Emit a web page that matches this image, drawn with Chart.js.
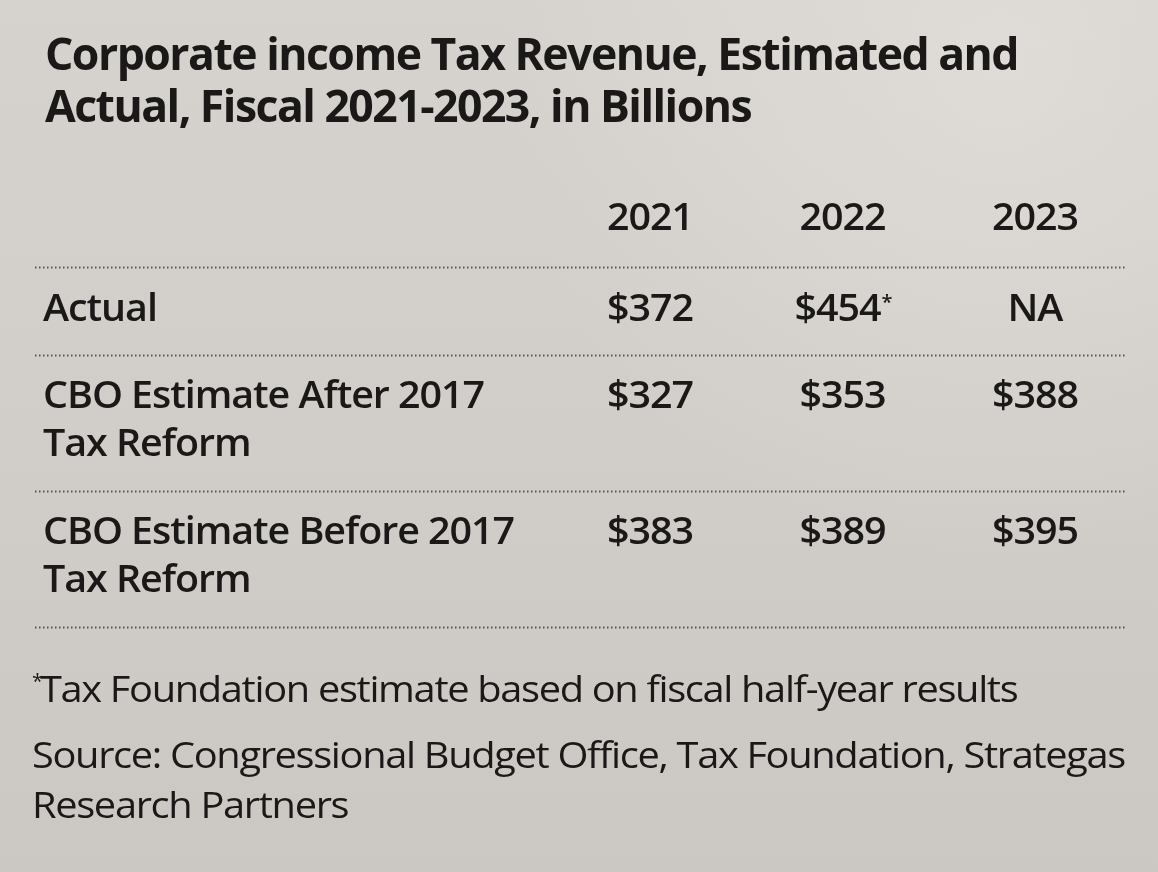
<!DOCTYPE html>
<html>
<head>
<meta charset="utf-8">
<script src="https://cdn.jsdelivr.net/npm/chart.js@4/dist/chart.umd.min.js"></script>
<style>
html, body { margin: 0; padding: 0; background: #d3d0cb; }
#wrap { width: 1158px; height: 872px; }
</style>
</head>
<body>
<div id="wrap"><canvas id="chart1" width="1158" height="872"></canvas></div>
<script>
// table content
var title = ['Corporate income Tax Revenue, Estimated and', 'Actual, Fiscal 2021-2023, in Billions'];
var years = ['2021', '2022', '2023'];
var rowNames = [['Actual'], ['CBO Estimate After 2017', 'Tax Reform'], ['CBO Estimate Before 2017', 'Tax Reform']];
var actual = [372, 454, null];
var cboAfter = [327, 353, 388];
var cboBefore = [383, 389, 395];
var actualMarks = ['', '*', ''];
var footnote = 'Tax Foundation estimate based on fiscal half-year results';
var source = ['Source: Congressional Budget Office, Tax Foundation, Strategas', 'Research Partners'];

var rows = [actual, cboAfter, cboBefore];
var marks = [actualMarks, ['', '', ''], ['', '', '']];

// row tops in y units: each row is as tall as its label lines plus a gap
var tops = [];
var total = 0;
rowNames.forEach(function (n) { tops.push(total); total += n.length + 0.8; });

var ink = '#1b1918';

function txt(ctx, s, x, y, font, sx, align, ls) {
    ctx.save();
    ctx.font = font;
    ctx.letterSpacing = (ls || 0) + 'px';
    ctx.translate(x, y);
    ctx.scale(sx, 1);
    ctx.textAlign = align || 'left';
    ctx.textBaseline = 'alphabetic';
    ctx.fillText(s, 0, 0);
    ctx.restore();
}
function measure(ctx, s, font, ls) {
    ctx.save();
    ctx.font = font;
    ctx.letterSpacing = (ls || 0) + 'px';
    var m = ctx.measureText(s).width;
    ctx.restore();
    return m;
}

var titleFont = 'bold 44px "Open Sans"';
var cellFont = '600 37px "Open Sans"';
var noteFont = '36px "Open Sans"';
var markFont = '600 20px "Open Sans"';

var tablePlugin = {
    id: 'tablePlugin',
    beforeDraw: function (chart) {
        var ctx = chart.ctx;
        var g = ctx.createLinearGradient(0, 0, 0, chart.height);
        g.addColorStop(0, '#d6d3cf');
        g.addColorStop(0.5, '#d1cec9');
        g.addColorStop(1, '#cbc7c2');
        ctx.save();
        ctx.fillStyle = g;
        ctx.fillRect(0, 0, chart.width, chart.height);
        var r = ctx.createRadialGradient(1000, 60, 20, 1000, 60, 500);
        r.addColorStop(0, 'rgba(232,229,225,0.5)');
        r.addColorStop(1, 'rgba(232,229,225,0)');
        ctx.fillStyle = r;
        ctx.fillRect(0, 0, chart.width, chart.height);
        ctx.restore();
    },
    afterDatasetsDraw: function (chart) {
        var ctx = chart.ctx;
        var xs = chart.scales.x, ys = chart.scales.y;
        var area = chart.chartArea;
        ctx.save();
        ctx.fillStyle = ink;

        // title
        var tsx = 973 / measure(ctx, title[0], titleFont, -1.5);
        txt(ctx, title[0], 45, 70, titleFont, tsx, 'left', -1.5);
        txt(ctx, title[1], 45, 122, titleFont, tsx, 'left', -1.5);

        var csx = 441 / measure(ctx, rowNames[1][0], cellFont, -1);

        // column headers
        years.forEach(function (yr, c) {
            txt(ctx, yr, xs.getPixelForValue(c), ys.getPixelForValue(-0.76), cellFont, csx, 'center', -1);
        });

        // dotted rules
        ctx.strokeStyle = 'rgba(55,52,50,0.8)';
        ctx.lineWidth = 2;
        ctx.setLineDash([1.5, 2.5]);
        var edges = tops.concat([total]);
        edges.forEach(function (e) {
            var py = Math.round(ys.getPixelForValue(e)) + 0.5;
            ctx.beginPath();
            ctx.moveTo(area.left, py);
            ctx.lineTo(area.right, py);
            ctx.stroke();
        });
        ctx.setLineDash([]);

        // row labels
        rowNames.forEach(function (lines, r) {
            lines.forEach(function (l, i) {
                txt(ctx, l, area.left + 8, ys.getPixelForValue(tops[r] + 1.1 + i * 0.98), cellFont, csx, 'left', -1);
            });
        });

        // values, placed at the points of each dataset
        chart.data.datasets.forEach(function (ds, r) {
            chart.getDatasetMeta(r).data.forEach(function (el, c) {
                var v = rows[r][c];
                var s = v === null ? 'NA' : '$' + v;
                var m = marks[r][c];
                var shift = m ? -5 : 0;
                txt(ctx, s, el.x + shift, el.y, cellFont, csx, 'center', -1);
                if (m) {
                    var w = measure(ctx, s, cellFont, -1) * csx;
                    txt(ctx, m, el.x + shift + w / 2 + 1, el.y - 12, markFont, 1, 'left');
                }
            });
        });

        // notes
        var nsx = 1093 / measure(ctx, source[0], noteFont, -1.2);
        txt(ctx, '*', 32, 688, markFont.replace('600 ', ''), 1, 'left');
        txt(ctx, footnote, 40, 702, noteFont, nsx, 'left', -1.2);
        txt(ctx, source[0], 32, 768, noteFont, nsx, 'left', -1.2);
        txt(ctx, source[1], 32, 818, noteFont, nsx, 'left', -1.2);
        ctx.restore();
    }
};

var chart1 = new Chart('chart1', {
    type: 'scatter',
    data: {
        datasets: rows.map(function (vals, r) {
            return {
                label: rowNames[r].join(' '),
                data: vals.map(function (v, c) { return { x: c, y: tops[r] + 1.1 }; }),
                pointRadius: 0,
                pointHoverRadius: 0
            };
        })
    },
    options: {
        responsive: false,
        animation: false,
        devicePixelRatio: 1,
        layout: { padding: { left: 35, right: 33, top: 160, bottom: 245 } },
        scales: {
            x: { type: 'linear', display: false, min: -3.195, max: 2.468 },
            y: { type: 'linear', display: false, reverse: true, min: -2.2, max: 7.4 }
        },
        plugins: {
            legend: { display: false },
            tooltip: { enabled: false }
        }
    },
    plugins: [tablePlugin]
});
</script>
</body>
</html>
